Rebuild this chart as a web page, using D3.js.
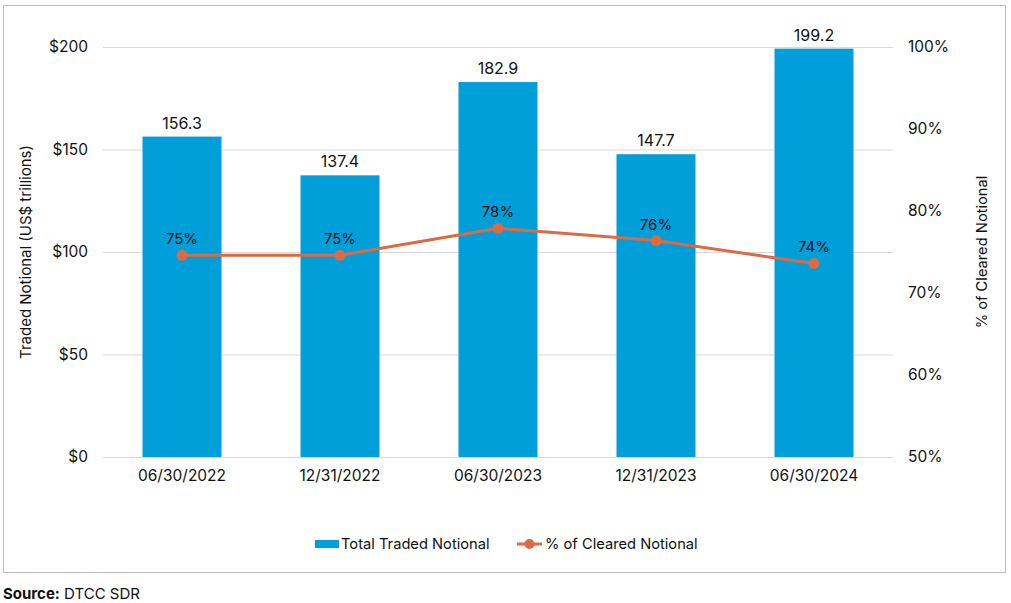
<!DOCTYPE html>
<html lang="en">
<head>
  <meta charset="UTF-8">
  <title>Traded Notional and % Cleared</title>
  <script src="https://d3js.org/d3.v7.min.js"></script>
  <style>
    body { margin: 0; background: #fff; font-family: "Inter", "Open Sans", sans-serif; }
    text { fill: #111; }
  </style>
</head>
<body>
  <svg id="chart" width="1011" height="603"></svg>
  <script>
    // Chart data
    const periods = ["06/30/2022", "12/31/2022", "06/30/2023", "12/31/2023", "06/30/2024"];
    const tradedNotional = [156.3, 137.4, 182.9, 147.7, 199.2];
    const clearedPct = [74.6, 74.6, 77.9, 76.4, 73.6];
    const leftTicks = [0, 50, 100, 150, 200];
    const rightTicks = [50, 60, 70, 80, 90, 100];

    const barColor = "#009fda", lineColor = "#dc6a42", gridColor = "#d9d9d9";
    const margin = { top: 47, right: 118, bottom: 146, left: 103 };
    const width = 1011, height = 603;

    const svg = d3.select("#chart");

    // outer frame
    svg.append("rect")
       .attr("x", 3.5).attr("y", 5.5)
       .attr("width", 1002).attr("height", 567)
       .attr("fill", "none").attr("stroke", "#bdbdbd");

    const x = d3.scaleBand()
                .domain(periods)
                .range([margin.left, width - margin.right])
                .paddingInner(0.5).paddingOuter(0.25);

    const yL = d3.scaleLinear().domain([0, 200]).range([height - margin.bottom, margin.top]);
    const yR = d3.scaleLinear().domain([50, 100]).range([height - margin.bottom, margin.top]);

    // gridlines
    svg.append("g")
       .selectAll("line")
       .data(leftTicks)
       .join("line")
       .attr("x1", margin.left).attr("x2", width - margin.right)
       .attr("y1", d => yL(d) + 0.5).attr("y2", d => yL(d) + 0.5)
       .attr("stroke", gridColor).attr("stroke-width", 1);

    // left axis
    const leftAxis = svg.append("g")
       .attr("transform", `translate(${margin.left},0)`)
       .call(d3.axisLeft(yL).tickValues(leftTicks).tickFormat(d => "$" + d).tickSize(0).tickPadding(15));
    leftAxis.select(".domain").remove();
    leftAxis.selectAll("text").style("font-size", "15.5px").style("font-family", "Inter, sans-serif").attr("fill", "#111");

    // right axis
    const rightAxis = svg.append("g")
       .attr("transform", `translate(${width - margin.right},0)`)
       .call(d3.axisRight(yR).tickValues(rightTicks).tickFormat(d => d + "%").tickSize(0).tickPadding(15));
    rightAxis.select(".domain").remove();
    rightAxis.selectAll("text").style("font-size", "15.5px").style("font-family", "Inter, sans-serif").attr("fill", "#111");

    // bottom axis
    const bottomAxis = svg.append("g")
       .attr("transform", `translate(0,${height - margin.bottom})`)
       .call(d3.axisBottom(x).tickSize(0).tickPadding(13));
    bottomAxis.select(".domain").remove();
    bottomAxis.selectAll("text").style("font-size", "15.5px").style("font-family", "Inter, sans-serif").attr("fill", "#111");

    // bars
    svg.append("g")
       .selectAll("rect")
       .data(tradedNotional)
       .join("rect")
       .attr("x", (d, i) => x(periods[i]))
       .attr("y", d => yL(d))
       .attr("width", x.bandwidth())
       .attr("height", d => yL(0) - yL(d))
       .attr("fill", barColor);

    // bar labels
    svg.append("g")
       .selectAll("text")
       .data(tradedNotional)
       .join("text")
       .attr("x", (d, i) => x(periods[i]) + x.bandwidth() / 2)
       .attr("y", d => yL(d) - 8)
       .attr("text-anchor", "middle")
       .style("font-size", "16px")
       .text(d => d.toFixed(1));

    // line
    const cx = i => x(periods[i]) + x.bandwidth() / 2;
    const line = d3.line().x((d, i) => cx(i)).y(d => yR(d));
    svg.append("path")
       .datum(clearedPct)
       .attr("d", line)
       .attr("fill", "none")
       .attr("stroke", lineColor)
       .attr("stroke-width", 3);

    svg.append("g")
       .selectAll("circle")
       .data(clearedPct)
       .join("circle")
       .attr("cx", (d, i) => cx(i))
       .attr("cy", d => yR(d))
       .attr("r", 5.5)
       .attr("fill", lineColor);

    svg.append("g")
       .selectAll("text")
       .data(clearedPct)
       .join("text")
       .attr("x", (d, i) => cx(i))
       .attr("y", d => yR(d) - 11)
       .attr("text-anchor", "middle")
       .style("font-size", "15px")
       .text(d => Math.round(d) + "%");

    // axis titles
    svg.append("text")
       .attr("transform", `translate(31,${yL(100)}) rotate(-90)`)
       .attr("text-anchor", "middle")
       .style("font-size", "15px")
       .text("Traded Notional (US$ trillions)");

    svg.append("text")
       .attr("transform", `translate(987,${yL(100)}) rotate(-90)`)
       .attr("text-anchor", "middle")
       .style("font-size", "14.7px")
       .text("% of Cleared Notional");

    // legend
    const legend = svg.append("g").attr("transform", "translate(0,544)");
    legend.append("rect")
          .attr("x", 315).attr("y", -4).attr("width", 24).attr("height", 8)
          .attr("fill", barColor);
    legend.append("text")
          .attr("x", 341).attr("y", 5)
          .style("font-size", "14.7px")
          .text("Total Traded Notional");
    legend.append("line")
          .attr("x1", 517).attr("x2", 542).attr("y1", 0).attr("y2", 0)
          .attr("stroke", lineColor).attr("stroke-width", 3);
    legend.append("circle")
          .attr("cx", 529.5).attr("cy", 0).attr("r", 5)
          .attr("fill", lineColor);
    legend.append("text")
          .attr("x", 545).attr("y", 5)
          .style("font-size", "14.7px")
          .text("% of Cleared Notional");

    // source note
    const src = svg.append("text")
       .attr("x", 3).attr("y", 599)
       .style("font-size", "15px")
       .attr("fill", "#444");
    src.append("tspan").style("font-weight", "bold").text("Source:");
    src.append("tspan").text(" DTCC SDR");
  </script>
</body>
</html>
